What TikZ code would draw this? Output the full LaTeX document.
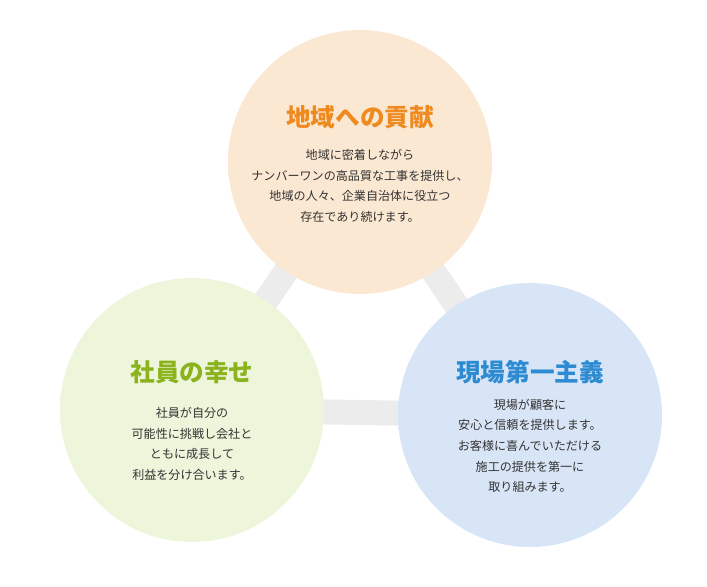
\documentclass[tikz,border=0pt]{standalone}
\usepackage{fontspec}
\setmainfont{Noto Sans CJK JP}
\definecolor{topfill}{HTML}{FBE8D2}
\definecolor{leftfill}{HTML}{EDF5DA}
\definecolor{rightfill}{HTML}{D8E5F6}
\definecolor{toptitle}{HTML}{EE8A1F}
\definecolor{lefttitle}{HTML}{8BB31E}
\definecolor{righttitle}{HTML}{2D8BD2}
\definecolor{barcol}{HTML}{ECECEC}
\pgfdeclareradialshading{topsoft}{\pgfpointorigin}{color(0bp)=(topfill);color(36bp)=(topfill);color(50bp)=(white)}
\pgfdeclareradialshading{leftsoft}{\pgfpointorigin}{color(0bp)=(leftfill);color(36bp)=(leftfill);color(50bp)=(white)}
\pgfdeclareradialshading{rightsoft}{\pgfpointorigin}{color(0bp)=(rightfill);color(36bp)=(rightfill);color(50bp)=(white)}
\begin{document}
\begin{tikzpicture}[x=0.03cm,y=-0.03cm,
  title/.style = {font=\fontsize{21}{24}\selectfont\bfseries},
  body/.style = {align=center,font=\fontsize{10.3}{17.6}\selectfont,text=black!80}]
	\useasboundingbox (0,0) rectangle (707,586);
	\coordinate (ctop) at (360,162);
	\coordinate (cleft) at (192,410);
	\coordinate (cright) at (530,415);
	\draw [barcol,line width=0.75cm] (ctop) -- (cleft) -- (cright) -- cycle;
	\shade [shading=topsoft] (ctop) circle [radius=132];
	\shade [shading=leftsoft] (cleft) circle [radius=132];
	\shade [shading=rightsoft] (cright) circle [radius=132];
	\node (ttop) at (360,117) [title,text=toptitle] {地域への貢献};
	\node (btop) at (360,186) [body] {地域に密着しながら\\ナンバーワンの高品質な工事を提供し、\\地域の人々、企業自治体に役立つ\\存在であり続けます。};
	\node (tleft) at (192,372) [title,text=lefttitle] {社員の幸せ};
	\node (bleft) at (192,444) [body] {社員が自分の\\可能性に挑戦し会社と\\ともに成長して\\利益を分け合います。};
	\node (tright) at (530,372) [title,text=righttitle] {現場第一主義};
	\node (bright) at (530,446) [body] {現場が顧客に\\安心と信頼を提供します。\\お客様に喜んでいただける\\施工の提供を第一に\\取り組みます。};
\end{tikzpicture}
\end{document}
